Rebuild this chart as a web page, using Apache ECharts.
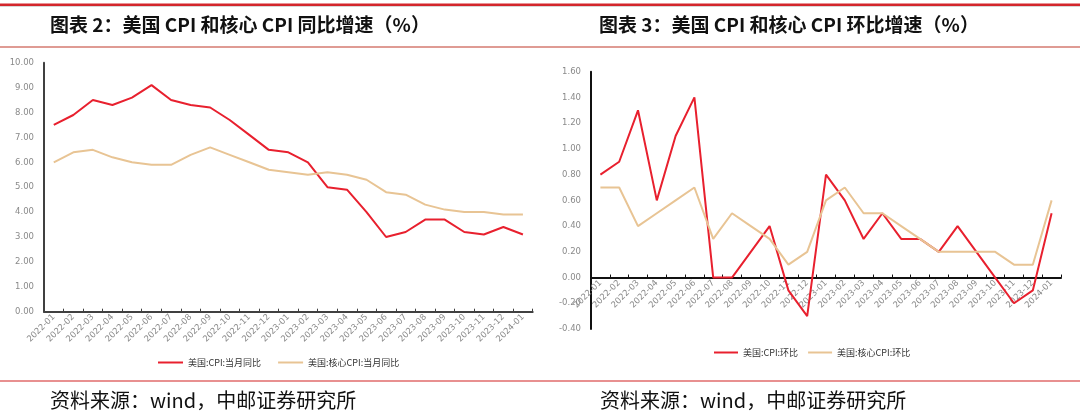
<!DOCTYPE html>
<html lang="zh">
<head>
<meta charset="UTF-8">
<title>美国CPI</title>
<script src="https://cdn.jsdelivr.net/npm/echarts@6.0.0/dist/echarts.min.js"></script>
</head>
<body style="margin:0;background:#fff">
<div id="main" style="width:1080px;height:418px"></div>
<script type="text/javascript">
// 月份刻度
var months = ['2022-01', '2022-02', '2022-03', '2022-04', '2022-05', '2022-06', '2022-07',
    '2022-08', '2022-09', '2022-10', '2022-11', '2022-12', '2023-01', '2023-02', '2023-03',
    '2023-04', '2023-05', '2023-06', '2023-07', '2023-08', '2023-09', '2023-10', '2023-11',
    '2023-12', '2024-01'];

// 图表2：同比
var cpiYoy = [7.5, 7.9, 8.5, 8.3, 8.6, 9.1, 8.5, 8.3, 8.2, 7.7, 7.1, 6.5, 6.4, 6.0, 5.0,
    4.9, 4.0, 3.0, 3.2, 3.7, 3.7, 3.2, 3.1, 3.4, 3.1];
var coreYoy = [6.0, 6.4, 6.5, 6.2, 6.0, 5.9, 5.9, 6.3, 6.6, 6.3, 6.0, 5.7, 5.6, 5.5, 5.6,
    5.5, 5.3, 4.8, 4.7, 4.3, 4.1, 4.0, 4.0, 3.9, 3.9];

// 图表3：环比
var cpiMom = [0.8, 0.9, 1.3, 0.6, 1.1, 1.4, 0.0, 0.0, 0.2, 0.4, -0.1, -0.3, 0.8, 0.6, 0.3,
    0.5, 0.3, 0.3, 0.2, 0.4, 0.2, 0.0, -0.2, -0.1, 0.5];
var coreMom = [0.7, 0.7, 0.4, 0.5, 0.6, 0.7, 0.3, 0.5, 0.4, 0.3, 0.1, 0.2, 0.6, 0.7, 0.5,
    0.5, 0.4, 0.3, 0.2, 0.2, 0.2, 0.2, 0.1, 0.1, 0.6];

var titles = ['图表 2：美国 CPI 和核心 CPI 同比增速（%）', '图表 3：美国 CPI 和核心 CPI 环比增速（%）'];
var source = '资料来源：wind，中邮证券研究所';
var names = ['美国:CPI:当月同比', '美国:核心CPI:当月同比', '美国:CPI:环比', '美国:核心CPI:环比'];

var RED = '#e8202e';
var TAN = '#e8c494';
var CJK = '"Noto Sans CJK SC", sans-serif';

// 右图网格：0 轴以下还有 0.4 的负区间，x 轴要上移到 0 处
var grid2H = 257.3;
var zeroShift = grid2H * 0.4 / 2.0;

var chart = echarts.init(document.getElementById('main'));

function xAxisCfg(gridIndex, lineColor, offset) {
    return {
        type: 'category',
        gridIndex: gridIndex,
        data: months,
        boundaryGap: true,
        offset: offset,
        axisLine: { onZero: false, lineStyle: { color: lineColor, width: 2 } },
        axisTick: { show: true, inside: true, length: 3, lineStyle: { color: lineColor } },
        axisLabel: {
            interval: 0, rotate: 45, margin: 4,
            fontSize: 8.5, color: '#8a8a8a', fontFamily: 'DejaVu Sans'
        },
        splitLine: { show: false }
    };
}

function yAxisCfg(gridIndex, min, max, step, lineColor) {
    return {
        type: 'value',
        gridIndex: gridIndex,
        min: min, max: max, interval: step,
        axisLine: { show: true, lineStyle: { color: lineColor, width: 2 } },
        axisTick: { show: false },
        axisLabel: {
            margin: 10, fontSize: 8.5, color: '#8a8a8a', fontFamily: 'DejaVu Sans',
            formatter: function (v) { return v.toFixed(2); }
        },
        splitLine: { show: false }
    };
}

function lineSeries(name, data, color, idx) {
    return {
        name: name, type: 'line', data: data,
        xAxisIndex: idx, yAxisIndex: idx,
        symbol: 'none', color: color,
        lineStyle: { color: color, width: 2 },
        emphasis: { disabled: true }
    };
}

var legendText = { fontSize: 9, color: '#333', fontFamily: CJK };

var option = {
    animation: false,
    grid: [
        { left: 44, top: 62.7, width: 488.7, height: 249 },
        { left: 591, top: 71.7, width: 470, height: grid2H }
    ],
    xAxis: [xAxisCfg(0, '#404040', 0), xAxisCfg(1, '#111', -zeroShift)],
    yAxis: [yAxisCfg(0, 0, 10, 1, '#404040'), yAxisCfg(1, -0.4, 1.6, 0.2, '#111')],
    legend: [
        {
            data: [names[0], names[1]], left: 153, top: 353,
            icon: 'rect', itemWidth: 25, itemHeight: 2, itemGap: 17,
            textStyle: legendText
        },
        {
            data: [names[2], names[3]], left: 709, top: 343,
            icon: 'rect', itemWidth: 24, itemHeight: 2, itemGap: 10,
            textStyle: legendText
        }
    ],
    series: [
        lineSeries(names[0], cpiYoy, RED, 0),
        lineSeries(names[1], coreYoy, TAN, 0),
        lineSeries(names[2], cpiMom, RED, 1),
        lineSeries(names[3], coreMom, TAN, 1)
    ],
    graphic: [
        // 顶部粗红线
        { type: 'rect', shape: { x: 0, y: 3.5, width: 1080, height: 2.5 }, style: { fill: '#d3262c' }, silent: true },
        { type: 'rect', shape: { x: 0, y: 6, width: 1080, height: 1 }, style: { fill: '#d8d8d8' }, silent: true },
        // 标题下细红线
        { type: 'rect', shape: { x: 0, y: 46.5, width: 1080, height: 1 }, style: { fill: '#c0392b' }, silent: true },
        // 底部红线
        { type: 'rect', shape: { x: 0, y: 380, width: 1080, height: 2 }, style: { fill: '#e89090' }, silent: true },
        {
            type: 'text', left: 50, top: 15,
            style: { text: titles[0], fill: '#111', font: 'bold 19px ' + CJK }
        },
        {
            type: 'text', left: 599, top: 15,
            style: { text: titles[1], fill: '#111', font: 'bold 19px ' + CJK }
        },
        {
            type: 'text', left: 50, top: 390,
            style: { text: source, fill: '#111', font: '20px ' + CJK }
        },
        {
            type: 'text', left: 600, top: 390,
            style: { text: source, fill: '#111', font: '20px ' + CJK }
        }
    ]
};

chart.setOption(option);
</script>
</body>
</html>
